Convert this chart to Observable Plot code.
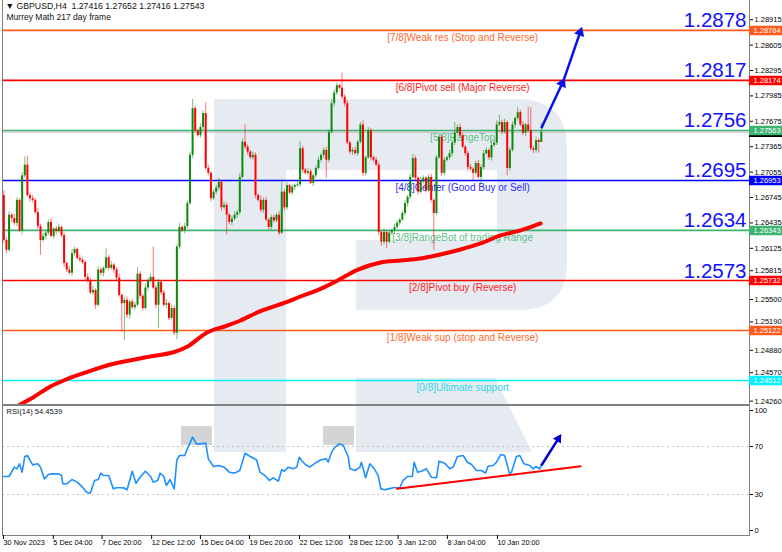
<!DOCTYPE html>
<html><head><meta charset="utf-8">
<script src="https://cdn.jsdelivr.net/npm/d3@7"></script>
<script src="https://cdn.jsdelivr.net/npm/@observablehq/plot@0.6"></script>
<style>
body{margin:0;background:#fff;}
#wrap{position:relative;width:782px;height:552px;overflow:hidden;font-family:"Liberation Sans",Arial,sans-serif;}
#wrap > svg{position:absolute;left:0;top:0;}
</style></head><body><div id="wrap"></div>
<script>
// ---------- DATA ----------
const firstOpen = 1.2677;
const closes = [
1.2622,1.2610,1.2653,1.2649,1.2643,1.2671,1.2634,1.2701,1.2714,1.2677,
1.2673,1.2671,1.2656,1.2639,1.2622,1.2627,1.2631,1.2644,1.2627,1.2636,
1.2633,1.2638,1.2628,1.2594,1.2586,1.2582,1.2606,1.2611,1.2600,1.2598,
1.2595,1.2577,1.2573,1.2558,1.2561,1.2543,1.2586,1.2582,1.2588,1.2601,
1.2588,1.2592,1.2586,1.2576,1.2555,1.2545,1.2549,1.2531,1.2547,1.2540,
1.2543,1.2581,1.2554,1.2539,1.2564,1.2573,1.2577,1.2564,1.2543,1.2571,
1.2558,1.2543,1.2545,1.2527,1.2539,1.2509,1.2614,1.2638,1.2634,1.2639,
1.2667,1.2726,1.2783,1.2756,1.2750,1.2760,1.2777,1.2710,1.2704,1.2673,
1.2681,1.2686,1.2693,1.2662,1.2665,1.2653,1.2644,1.2648,1.2653,1.2656,1.2699,1.2742,
1.2736,1.2730,1.2723,1.2726,1.2677,1.2671,1.2659,1.2671,1.2647,1.2638,
1.2650,1.2646,1.2653,1.2631,1.2681,1.2662,1.2689,1.2680,1.2687,1.2689,1.2690,
1.2734,1.2708,1.2704,1.2706,1.2692,1.2701,1.2710,1.2720,1.2726,1.2732,
1.2720,1.2754,1.2789,1.2802,1.2811,1.2808,1.2797,1.2789,1.2741,1.2730,
1.2732,1.2728,1.2742,1.2763,1.2704,1.2723,1.2756,1.2723,1.2720,1.2714,
1.2632,1.2620,1.2632,1.2620,1.2631,1.2634,1.2638,1.2643,1.2647,1.2655,
1.2667,1.2675,1.2699,1.2722,1.2698,1.2681,1.2695,1.2698,1.2683,
1.2699,1.2671,1.2655,1.2723,1.2748,1.2704,1.2720,1.2723,1.2728,1.2741,
1.2753,1.2760,1.2750,1.2736,1.2728,1.2711,1.2709,1.2704,1.2716,
1.2699,1.2711,1.2728,1.2732,1.2723,1.2738,1.2741,1.2763,1.2766,
1.2754,1.2766,1.2710,1.2732,1.2763,1.2771,1.2778,1.2763,1.2753,1.2763,
1.2756,1.2734,1.2732,1.2744,1.27416,1.27543];
// wick lengths in pips
const wickUp = [
6,3,4,2,5,3,2,4,10,11, 3,4,2,5,3,4,2,3,5,2, 3,4,2,3,2,4,5,3,2,4, 3,2,4,3,5,2,4,3,2,11,
3,4,2,3,5,2,3,4,2,3, 4,8,3,2,5,3,4,37,3,4, 2,3,5,2,4,3,3,5,2,4, 3,4,11,3,2,4,3,13,4,2,
3,3,5,2,4,3,2,4,4,3,5,4, 21,3,2,4,3,2,5,3,4,2, 3,3,2,4,15,3,4,2,3,2,4, 9,3,2,4,3,2,3,4,2,3,
4,3,5,4,3,2,18,3,4,2, 3,4,2,3,5,2,4,3,2,4, 3,2,4,2,3,2,4,3,2,3, 4,2,4,5,3,2,4,3,2,
3,4,2,3,4,2,3,2,4,3, 13,3,4,3,2,3,4,2,3, 4,3,4,3,2,4,3,5,9, 3,4,2,3,4,2,6,3,4,2,
22,28,3,4,2,11];
const wickDn = [
3,4,2,5,3,4,2,5,3,2, 4,3,2,3,18,2,4,3,2,3, 4,2,3,5,3,2,4,3,2,3, 2,4,3,2,3,5,2,3,4,2,
3,2,4,3,2,35,45,4,5,2, 3,2,4,3,2,4,3,2,4,28, 3,2,4,3,2,3,8,3,2,4, 3,2,4,3,2,3,4,2,3,4,
2,3,3,4,2,24,3,4,2,4,3,2, 3,4,2,3,4,2,3,4,2,3, 4,3,2,3,2,4,3,2,3,4,2, 3,4,2,3,2,4,3,2,3,4,
22,3,2,4,3,2,3,4,2,3, 4,2,3,2,4,3,2,4,3,2, 4,5,3,8,2,3,4,2,3,2, 3,4,3,2,4,3,2,4,3,
2,3,45,3,2,4,3,2,3,4, 3,2,3,2,3,4,2,9,3, 2,9,3,2,3,4,2,3,2, 3,2,9,3,2,4,3,2,3,4,
2,3,4,3,13,0];

const maBars = [0,5.6,11.3,17.8,22.8,30.4,40.7,53.3,64.7,70.1,77.7,85.3,90.3,97.9,106.7,113.2,120.8,127.3,134.9,143.7,151.3,158.9,166.5,174.2,181.8,189.4,197.1,204.7];
const maValues = [1.24109,1.24207,1.24308,1.24439,1.24512,1.24601,1.24707,1.24789,1.24857,1.24927,1.25101,1.25183,1.25244,1.25358,1.25455,1.25537,1.25631,1.25732,1.25863,1.25952,1.25976,1.26001,1.26050,1.26111,1.26184,1.26282,1.26343,1.26428];

const rsiBars = [0,2,4,5,6,7,8,9,11,13,14,15.5,17,18,21,22,22.5,24,26,28,30,31.6,33,34.6,36,37,38,40,41.8,43,45.6,47,49,50.4,52,54,56,57,58.7,59.6,61,62,63.4,65,66,67,69,70,72,73.5,75,77,78,80,82,84,86,88,90,92,94,96.4,97.7,99.6,101.3,102.8,104.7,106,107,108.5,110.4,111.7,112.7,113.6,115,116.7,119.3,121,123,123.7,125,126.3,128,129.5,131.4,132,134,135.8,136.4,138,139.6,141.3,142.8,143.8,145.3,146.8,148.5,151,152.3,154,155.8,156.5,157.8,159.3,161.2,163.1,165,166,168.2,170.1,171.4,173,175.2,176.8,178.4,180.3,182.2,183.7,184.7,186.6,187.9,189.5,191,192.9,193.6,195.5,196.8,198.4,200.6,201.9,202.8,204.4,205];
const rsiValues = [45,45,52.8,51.4,55.6,48.6,61.7,62.5,54.7,55.6,52.8,43,46.7,47.2,47.2,45.8,38.9,38.9,42.5,40.3,36.1,31.9,31.1,41.7,42.5,47.8,45.8,45.8,34.7,35.6,35.6,33.9,49.4,39.4,44.4,49.4,45,40.3,41.7,47.8,45,37.5,42.5,34.7,58.9,62.5,62.5,68,77.8,72.2,72.2,72.8,59.7,53.3,54.2,52.8,48.6,47.8,50,64.4,61.7,58.9,48.6,45.8,41.7,43.9,41.1,50.6,49.4,52.8,51.4,52.8,61.1,58.3,55,52.8,56.9,58.9,59.7,56.9,65.3,69.4,72.2,70.8,61.1,51.4,50,52.8,56.9,43.9,55.6,51.4,45.8,34.7,33.9,34.7,35.6,35.6,41.7,45,45,56.9,48.6,49.4,51.4,44.4,43.9,57.8,56.1,51.4,52.8,61.7,62.5,56.9,55,50,50,47.8,53.6,54.2,56.9,63.3,62.5,47.2,48.6,61.7,62.5,55.6,54.2,51.4,53.3,51.4,54.45];
const rsiTrendBars = [150, 220];
const rsiTrendValues = [34.7, 53.6];
const rsiArrowBars = [205, 211.5];
const rsiArrowValues = [54.2, 76.5];

const levelPrices = [1.28784,1.28174,1.27563,1.26953,1.26343,1.25732,1.25122,1.24512];
const levelNames = ["[7/8]Weak res (Stop and Reverse)","[6/8]Pivot sell (Major Reverse)","[5/8]RangeTop","[4/8]Center (Good Buy or Sell)","[3/8]RangeBot of trading Range","[2/8]Pivot buy (Reverse)","[1/8]Weak sup (stop and Reverse)","[0/8]Ultimate support"];
const levelColors = ["#ff5a1e","#ff0000","#3cb371","#0000ff","#3cb371","#ff0000","#ff5a1e","#00f0ff"];
const levelTextColors = ["#ff6a30","#ff1a1a","#5cbf8a","#2b2bff","#5cbf8a","#ff1a1a","#ff6a30","#2fd6ea"];
const bigLabels = ["1.2878","1.2817","1.2756","1.2695","1.2634","1.2573"];

const mainArrowBars1 = [205, 213];
const mainArrowPrices1 = [1.2759, 1.2814];
const mainArrowBars2 = [212.9, 219.8];
const mainArrowPrices2 = [1.2812, 1.2876];

const priceTicks = [1.28915,1.28605,1.28295,1.27985,1.27675,1.27365,1.27055,1.26745,1.26435,1.26125,1.25815,1.25500,1.25190,1.24880,1.24570,1.24260];
const priceTickLabels = ["1.28915","1.28605","1.28295","1.27985","1.27675","1.27365","1.27055","1.26745","1.26435","1.26125","1.25815","1.25500","1.25190","1.24880","1.24570","1.24260"];
const timeTickBars = [-0.5,18.5,37.1,56,74.6,93.3,112.4,131.5,150,168.8,187.9];
const timeTickLabels = ["30 Nov 2023","5 Dec 04:00","7 Dec 20:00","12 Dec 12:00","15 Dec 04:00","19 Dec 20:00","22 Dec 12:00","28 Dec 12:00","3 Jan 12:00","8 Jan 04:00","10 Jan 20:00"];
const rsiTicks = [0,30,70,100];
const headerLine1 = "\u25BC GBPUSD,H4  1.27416 1.27652 1.27416 1.27543";
const headerLine2 = "Murrey Math 217 day frame";
const rsiTitle = "RSI(14) 54.4539";

// ---------- TABLES ----------
const candles = closes.map((c, i) => {
  const o = i === 0 ? firstOpen : closes[i - 1];
  return {i, o, c, h: Math.max(o, c) + wickUp[i] * 1e-4, l: Math.min(o, c) - wickDn[i] * 1e-4};
});
const ma = maBars.map((b, i) => ({b, v: maValues[i]}));
const rsi = rsiBars.map((b, i) => ({b, v: rsiValues[i]}));
const trend = rsiTrendBars.map((b, i) => ({b, v: rsiTrendValues[i]}));
const levels = levelPrices.map((p, i) => ({p, name: levelNames[i], color: levelColors[i], tcolor: levelTextColors[i], big: bigLabels[i]}));
const lastClose = closes[closes.length - 1];

// scales (pixel geometry shared by both panels)
const X_DOMAIN = [-0.5, 284.4], X_RANGE = [2, 749];
const Y_DOMAIN = [1.24231, 1.29113], Y_RANGE = [403, 3];
const RSI_RANGE = [530, 410];
const pxPerBar = (X_RANGE[1] - X_RANGE[0]) / (X_DOMAIN[1] - X_DOMAIN[0]);
const pxPerPrice = (Y_RANGE[0] - Y_RANGE[1]) / (Y_DOMAIN[1] - Y_DOMAIN[0]);
const pxPerRsi = (RSI_RANGE[0] - RSI_RANGE[1]) / 100;
function arrowItem(x1, y1, x2, y2, ky) {
  const ang = Math.atan2((x2 - x1) * pxPerBar, (y2 - y1) * ky) * 180 / Math.PI;
  return {x1, y1, x2, y2, ang};
}
const mainArrows = [
  arrowItem(mainArrowBars1[0], mainArrowPrices1[0], mainArrowBars1[1], mainArrowPrices1[1], pxPerPrice),
  arrowItem(mainArrowBars2[0], mainArrowPrices2[0], mainArrowBars2[1], mainArrowPrices2[1], pxPerPrice)];
const rsiArrow = [arrowItem(rsiArrowBars[0], rsiArrowValues[0], rsiArrowBars[1], rsiArrowValues[1], pxPerRsi)];
const priceLabelOf = new Map(priceTicks.map((t, i) => [t, priceTickLabels[i]]));
const timeLabelOf = new Map(timeTickBars.map((t, i) => [t, timeTickLabels[i]]));
const nearTag = t => levelPrices.some(p => Math.abs(t - p) < 0.0009);

const UP = "#0b8a0b", DN = "#ff0000";
const FONT = "'Liberation Sans', Arial, sans-serif";
const xScale = {domain: X_DOMAIN, range: X_RANGE, axis: null};
const wrap = document.getElementById("wrap");

// ---------- WATERMARK (decoration) ----------
const wm = d3.create("svg").attr("width", 782).attr("height", 552);
wm.append("path").attr("fill", "#e6ebf2")
  .attr("d", "M214,99 H517 Q567,99 567,149 V262 Q567,310 519,310 H356 V240 H497 V170 H286 V452 H214 Z");
wm.append("path").attr("fill", "#e6ebf2").attr("d", "M356,378 H495 L532,452 H356 Z");
wm.append("rect").attr("x", 181).attr("y", 426).attr("width", 31).attr("height", 19).attr("fill", "#d4d4d4");
wm.append("rect").attr("x", 323).attr("y", 426).attr("width", 31).attr("height", 19).attr("fill", "#d4d4d4");
wrap.appendChild(wm.node());

// ---------- MAIN PANEL ----------
const mainPlot = Plot.plot({
  width: 782, height: 552, marginLeft: 2, marginRight: 33, marginTop: -2, marginBottom: 148,
  x: xScale,
  y: {domain: Y_DOMAIN, range: Y_RANGE, axis: null},
  style: {background: "transparent", fontFamily: FONT, color: "#000"},
  marks: [
    Plot.ruleY(levels, {y: "p", stroke: "color", strokeWidth: 1.7}),
    Plot.ruleY([lastClose], {stroke: "#b8b8b8", strokeWidth: 1}),
    Plot.text(levels, {x: 175, y: "p", text: "name", fill: "tcolor", fontSize: 10, dy: 7, lineAnchor: "middle"}),
    Plot.line(ma, {x: "b", y: "v", stroke: "#ff0000", strokeWidth: 4, curve: "catmull-rom", clip: true}),
    Plot.ruleX(candles, {x: "i", y1: "l", y2: "h", stroke: d => d.c >= d.o ? UP : DN, strokeWidth: 1, strokeOpacity: 0.55}),
    Plot.ruleX(candles, {x: "i", y1: "o", y2: "c", stroke: d => d.c >= d.o ? UP : DN, strokeWidth: 2}),
    Plot.text(levels.filter(d => d.big), {y: "p", text: "big", frameAnchor: "right", textAnchor: "end", lineAnchor: "bottom", dx: -3, dy: -3, fontSize: 20.5, fill: "#1010ff"}),
    Plot.link(mainArrows, {x1: "x1", y1: "y1", x2: "x2", y2: "y2", stroke: "#0a10e8", strokeWidth: 2.5}),
    Plot.dot(mainArrows, {x: "x2", y: "y2", symbol: "triangle2", r: 5, rotate: "ang", fill: "#0a10e8"}),
    Plot.frame({stroke: "#808080"}),
    Plot.axisY(priceTicks.filter(t => !nearTag(t)), {anchor: "right", tickSize: 3, tickPadding: 2, fontSize: 7.5, tickFormat: d => priceLabelOf.get(d)}),
    Plot.axisY(priceTicks.filter(nearTag), {anchor: "right", tickSize: 3, tickPadding: 2, fontSize: 7.5, dy: -3, tickFormat: d => priceLabelOf.get(d)}),
    Plot.ruleY([lastClose], {x1: 284.4, x2: 297.5, stroke: "#000", strokeWidth: 9.5}),
    Plot.ruleY(levels, {y: "p", x1: 284.4, x2: 297.5, stroke: "color", strokeWidth: 9.5}),
    Plot.text(levels, {y: "p", text: d => d.p.toFixed(5), frameAnchor: "right", textAnchor: "start", dx: 4, fill: "#ffffff", fontSize: 7.5}),
    Plot.text([headerLine1], {text: d => d, frameAnchor: "top-left", textAnchor: "start", lineAnchor: "top", dx: 3, dy: 4, fontSize: 8.7, fill: "#111"}),
    Plot.text([headerLine2], {text: d => d, frameAnchor: "top-left", textAnchor: "start", lineAnchor: "top", dx: 4, dy: 15, fontSize: 8.5, fill: "#111"})
  ]
});
wrap.appendChild(mainPlot);

// ---------- RSI PANEL ----------
const rsiPlot = Plot.plot({
  width: 782, height: 552, marginLeft: 2, marginRight: 33, marginTop: 405, marginBottom: 17,
  x: xScale,
  y: {domain: [0, 100], range: RSI_RANGE, axis: null},
  style: {background: "transparent", fontFamily: FONT, color: "#000"},
  marks: [
    Plot.ruleY([30, 70], {stroke: "#c4c4c4", strokeDasharray: "2,3"}),
    Plot.line(rsi, {x: "b", y: "v", stroke: "#1e90ff", strokeWidth: 1.6}),
    Plot.line(trend, {x: "b", y: "v", stroke: "#ff0000", strokeWidth: 2}),
    Plot.link(rsiArrow, {x1: "x1", y1: "y1", x2: "x2", y2: "y2", stroke: "#0000d0", strokeWidth: 2.5}),
    Plot.dot(rsiArrow, {x: "x2", y: "y2", symbol: "triangle2", r: 4.5, rotate: "ang", fill: "#0000d0"}),
    Plot.frame({stroke: "#808080"}),
    Plot.axisY(rsiTicks, {anchor: "right", tickSize: 3, tickPadding: 2, fontSize: 7.5}),
    Plot.axisX(timeTickBars, {anchor: "bottom", tickSize: 4, tickPadding: 0, textAnchor: "start", dx: 1, fontSize: 7.3, tickFormat: d => timeLabelOf.get(d)}),
    Plot.text([rsiTitle], {text: d => d, frameAnchor: "top-left", textAnchor: "start", lineAnchor: "top", dx: 4, dy: 3, fontSize: 7.6, fill: "#111"})
  ]
});
wrap.appendChild(rsiPlot);
</script>
</body></html>
